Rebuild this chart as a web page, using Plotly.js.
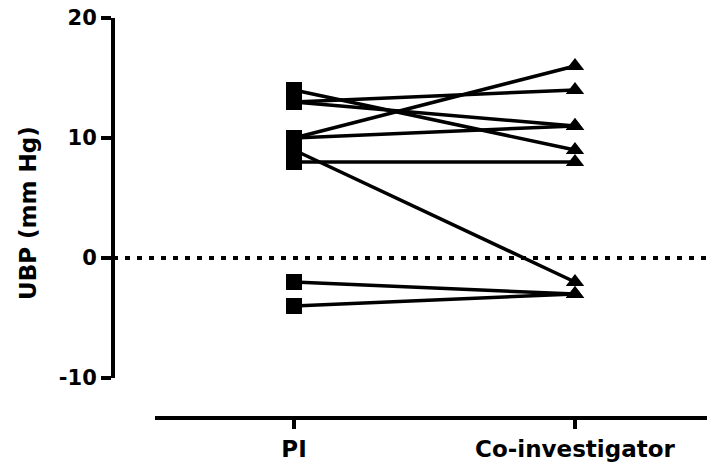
<!DOCTYPE html>
<html>
<head>
<meta charset="utf-8">
<script src="https://cdn.plot.ly/plotly-3.0.1.min.js"></script>
<style>html,body{margin:0;padding:0;background:#fff}#chart{width:707px;height:465px}</style>
</head>
<body>
<div id="chart"></div>
<script>
const groups = ['PI', 'Co-investigator'];
const piValues = [14, 13, 13, 10, 10, 9, 8, -2, -4];
const coValues = [9, 14, 11, 16, 11, -2, 8, -3, -3];
const yTicks = [-10, 0, 10, 20];
const yTitle = 'UBP (mm Hg)';

const FONT = 'DejaVu Sans, Arial, sans-serif';
const traces = piValues.map((v, i) => ({
  type: 'scatter',
  mode: 'lines+markers',
  x: groups,
  y: [v, coValues[i]],
  line: {color: '#000', width: 3.5},
  marker: {color: '#000', symbol: ['square', 'triangle-up'], size: 16, opacity: 1, line: {width: 0}},
  showlegend: false,
  hoverinfo: 'skip'
}));

const W = 707, H = 465, L = 113, R = 0, T = 18, B = 47;
const pw = W - L - R, ph = H - T - B;
const xStart = (155 - L) / pw;
const yStart = (418 - 378) / ph;

const layout = {
  width: W, height: H,
  margin: {l: L, r: R, t: T, b: B, pad: 0},
  paper_bgcolor: '#fff', plot_bgcolor: 'rgba(0,0,0,0)',
  font: {family: FONT, color: '#000'},
  showlegend: false,
  xaxis: {
    type: 'category', domain: [xStart, 1], anchor: 'free', position: 0,
    range: [-0.4947, 1.4698],
    showline: true, linecolor: '#000', linewidth: 4,
    ticks: 'outside', ticklen: 9, tickwidth: 4, tickcolor: '#000',
    showgrid: false, zeroline: false,
    tickfont: {family: FONT, size: 23, color: '#000', weight: 'bold'},
    fixedrange: true
  },
  yaxis: {
    domain: [yStart, 1], anchor: 'free', position: 0,
    range: [-10, 20], tickvals: yTicks, ticktext: yTicks.map(String),
    showline: true, linecolor: '#000', linewidth: 4,
    ticks: 'outside', ticklen: 10, tickwidth: 4, tickcolor: '#000',
    showgrid: false, zeroline: false,
    tickfont: {family: FONT, size: 21, color: '#000', weight: 'bold'},
    fixedrange: true
  },
  annotations: [{
    text: yTitle, textangle: -90, showarrow: false,
    xref: 'paper', yref: 'paper',
    x: (28 - L) / pw, y: (418 - 213) / ph,
    xanchor: 'center', yanchor: 'middle',
    font: {family: FONT, size: 23, color: '#000', weight: 'bold'}
  }],
  shapes: [{
    type: 'line', xref: 'paper', yref: 'y', x0: 0, x1: 1, y0: 0, y1: 0,
    line: {color: '#000', width: 4, dash: '5px,7px'}
  }]
};

Plotly.newPlot('chart', traces, layout, {displayModeBar: false, staticPlot: true});
</script>
</body>
</html>
